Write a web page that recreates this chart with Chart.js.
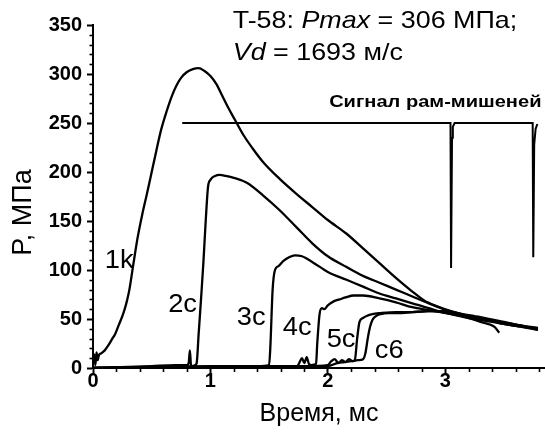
<!DOCTYPE html>
<html>
<head>
<meta charset="utf-8">
<script src="https://cdn.jsdelivr.net/npm/chart.js@4.4.1/dist/chart.umd.min.js"></script>
<style>
html,body{margin:0;padding:0;background:#fff;}
#wrap{width:545px;height:441px;position:relative;}
</style>
</head>
<body>
<div id="wrap"><canvas id="c" width="545" height="441"></canvas></div>
<script>
// ---- data (time in ms, pressure in MPa) ----
const t1k = [0, 0.01, 0.02, 0.03, 0.04, 0.05, 0.07, 0.1, 0.13, 0.16, 0.19, 0.22, 0.25, 0.27, 0.29, 0.31, 0.34, 0.38, 0.42, 0.46, 0.5, 0.54, 0.58, 0.63, 0.67, 0.71, 0.75, 0.8, 0.85, 0.9, 0.95, 1.0, 1.05, 1.1, 1.15, 1.21, 1.28, 1.36, 1.45, 1.59, 1.73, 1.87, 2.0, 2.16, 2.3, 2.44, 2.58, 2.72, 2.82, 2.93, 3.05, 3.2, 3.35, 3.5, 3.65, 3.79];
const p1k = [4, 14, 3, 16, 8, 13, 15, 18, 23, 29, 35, 44, 53, 60, 69, 80, 103, 133, 157, 178, 200, 222, 243, 263, 277, 288, 296, 302, 305, 306, 303, 298, 290, 278, 266, 253, 238, 224, 210, 193, 178, 164, 151, 137, 122, 107, 92, 78, 69, 63, 58, 53, 49, 45, 42, 39];

const t2c = [0, 0.3, 0.5, 0.7, 0.8, 0.815, 0.825, 0.835, 0.85, 0.87, 0.883, 0.9, 0.92, 0.94, 0.96, 0.98, 1.0, 1.04, 1.08, 1.13, 1.2, 1.31, 1.45, 1.59, 1.73, 1.87, 2.0, 2.16, 2.3, 2.44, 2.58, 2.72, 2.86, 3.01, 3.15, 3.3, 3.42, 3.46];
const p2c = [0, 1, 2, 3, 3, 5, 18, 3, 2, 3, 5, 35, 70, 107, 150, 185, 192, 196, 197, 196, 194, 189, 176, 161, 144, 127, 114, 103, 94, 87, 80, 73, 66, 59, 53, 47, 42, 36];

const t3c = [0, 0.5, 1.0, 1.4, 1.5, 1.51, 1.53, 1.55, 1.58, 1.62, 1.67, 1.72, 1.78, 1.87, 2.0, 2.16, 2.3, 2.44, 2.58, 2.72, 2.86, 3.01, 3.2, 3.4, 3.57, 3.7, 3.79];
const p3c = [0, 1, 2, 2, 3, 20, 80, 100, 104, 109, 113, 115, 114, 108, 98, 90, 83, 76, 71, 66, 61, 56, 52, 48, 45, 42, 40];

const t4c = [0, 0.5, 1.0, 1.5, 1.74, 1.76, 1.78, 1.8, 1.82, 1.84, 1.86, 1.9, 1.91, 1.93, 1.95, 1.97, 2.0, 2.05, 2.1, 2.15, 2.22, 2.3, 2.44, 2.58, 2.72, 2.86, 3.01, 3.2, 3.4, 3.6, 3.79];
const p4c = [0, 1, 1, 2, 2, 6, 10, 5, 11, 4, 3, 4, 25, 55, 61, 60, 64, 68, 70, 72, 74, 74, 71, 67, 62, 59, 56, 51, 47, 43, 40];

const t5c = [0, 1.0, 1.8, 2.0, 2.03, 2.06, 2.09, 2.12, 2.15, 2.18, 2.21, 2.23, 2.25, 2.27, 2.3, 2.33, 2.38, 2.45, 2.58, 2.72, 2.86, 3.0, 3.2, 3.4, 3.6, 3.79];
const p5c = [0, 1, 2, 3, 7, 9, 5, 8, 6, 9, 7, 8, 30, 47, 51, 53, 55, 56, 57, 57, 58, 57, 52, 48, 44, 41];

const tc6 = [0, 1.0, 2.0, 2.08, 2.14, 2.2, 2.26, 2.3, 2.32, 2.34, 2.36, 2.38, 2.41, 2.45, 2.52, 2.6, 2.72, 2.86, 3.0, 3.15, 3.3, 3.5, 3.65, 3.79];
const pc6 = [0, 1, 2, 5, 6, 7, 8, 9, 15, 30, 42, 49, 53, 55, 56, 56, 57, 58, 58, 55, 52, 47, 43, 39];

// target-frame signal
const tSig = [0.76, 3.045, 3.05, 3.058, 3.065, 3.08, 3.745, 3.75, 3.758, 3.77, 3.785];
const pSig = [250, 250, 102, 235, 246, 250, 250, 113, 228, 244, 249];

// ---- texts ----
const seriesLabels = ['1k', '2c', '3c', '4c', '5c', 'c6'];
const xTitle = 'Время, мс';
const yTitle = 'P, МПа';
const signalText = 'Сигнал рам-мишеней';
const headLine1 = [['T-58: ', false], ['Pmax', true], [' = 306 МПа;', false]];
const headLine2 = [['Vd', true], [' = 1693 м/с', false]];

// ---- label anchors (data coordinates) ----
const labelAnchors = {
  '1k': [0.10, 102], '2c': [0.64, 57], '3c': [1.225, 44],
  '4c': [1.617, 34], '5c': [1.99, 21], 'c6': [2.40, 10]
};

const FAMILY = '"Liberation Sans", Arial, sans-serif';
const STRETCH = 1.12;
const pts = (t, p) => t.map((x, i) => ({x: x, y: p[i]}));
const isMajorX = v => Math.abs(v - Math.round(v)) < 1e-6;
const isMajorY = v => Math.abs(v / 50 - Math.round(v / 50)) < 1e-6;

const mk = (label, t, p, extra) => Object.assign({
  label: label, data: pts(t, p), borderColor: '#000', borderWidth: 2.3,
  pointRadius: 0, fill: false, cubicInterpolationMode: 'monotone'
}, extra || {});

function stretchedText(ctx, text, px, py, font, align, sx) {
  ctx.save();
  ctx.translate(px, py);
  ctx.scale(sx, 1);
  ctx.font = font;
  ctx.textAlign = align;
  ctx.textBaseline = 'alphabetic';
  ctx.fillText(text, 0, 0);
  const w = ctx.measureText(text).width * sx;
  ctx.restore();
  return w;
}

const extras = {
  id: 'extras',
  afterDraw(chart) {
    const {ctx, chartArea: ca, scales: {x, y}} = chart;
    ctx.save();
    ctx.strokeStyle = '#000';
    ctx.lineWidth = 1.6;
    // minor ticks
    x.ticks.forEach(tk => {
      if (isMajorX(tk.value)) return;
      const px = Math.round(x.getPixelForValue(tk.value)) + 0.5;
      ctx.beginPath(); ctx.moveTo(px, ca.bottom); ctx.lineTo(px, ca.bottom + 4); ctx.stroke();
    });
    y.ticks.forEach(tk => {
      if (isMajorY(tk.value)) return;
      const py = Math.round(y.getPixelForValue(tk.value)) + 0.5;
      ctx.beginPath(); ctx.moveTo(ca.left - 3.5, py); ctx.lineTo(ca.left, py); ctx.stroke();
    });
    ctx.fillStyle = '#000';
    // y title
    ctx.save();
    ctx.translate(ca.left - 69, (ca.top + ca.bottom) / 2 + 16);
    ctx.rotate(-Math.PI / 2);
    ctx.font = '27px ' + FAMILY;
    ctx.textAlign = 'center'; ctx.textBaseline = 'middle';
    ctx.fillText(yTitle, 0, 0);
    ctx.restore();
    // curve labels
    seriesLabels.forEach(l => {
      const a = labelAnchors[l];
      stretchedText(ctx, l, x.getPixelForValue(a[0]), y.getPixelForValue(a[1]),
                    '26px ' + FAMILY, 'left', 1.05);
    });
    // signal label
    stretchedText(ctx, signalText, x.getPixelForValue(3.82), y.getPixelForValue(266),
                  'bold 17px ' + FAMILY, 'right', STRETCH + 0.06);
    // heading lines
    const drawRich = (segs, tx, ty) => {
      let cx = x.getPixelForValue(tx);
      const cy = y.getPixelForValue(ty);
      segs.forEach(s => {
        cx += stretchedText(ctx, s[0], cx, cy, (s[1] ? 'italic ' : '') + '24px ' + FAMILY, 'left', STRETCH);
      });
    };
    drawRich(headLine1, 1.19, 347);
    drawRich(headLine2, 1.19, 314);
    ctx.restore();
  }
};

new Chart(document.getElementById('c'), {
  type: 'line',
  data: {
    datasets: [
      mk('1k', t1k, p1k),
      mk('2c', t2c, p2c),
      mk('3c', t3c, p3c),
      mk('4c', t4c, p4c),
      mk('5c', t5c, p5c),
      mk('c6', tc6, pc6),
      mk('signal', tSig, pSig, {cubicInterpolationMode: 'default', tension: 0, borderWidth: 2})
    ]
  },
  options: {
    responsive: false,
    animation: false,
    devicePixelRatio: 1,
    layout: {padding: {top: 25, right: 0, left: 0, bottom: 0}},
    plugins: {legend: {display: false}, tooltip: {enabled: false}},
    scales: {
      x: {
        type: 'linear', min: 0, max: 3.85,
        afterFit: s => { s.height = 73; },
        border: {display: true, color: '#000', width: 2},
        grid: {display: true, drawOnChartArea: false, drawTicks: true, tickLength: 6, tickWidth: 2,
               tickColor: c => (c.tick && isMajorX(c.tick.value)) ? '#000' : 'rgba(0,0,0,0)'},
        ticks: {stepSize: 0.2, includeBounds: false, autoSkip: false, maxRotation: 0, minRotation: 0,
                padding: -3, color: '#000',
                font: {family: FAMILY, size: 20, weight: 'bold', lineHeight: 1},
                callback: v => isMajorX(v) ? String(Math.round(v)) : ''},
        title: {display: true, text: xTitle, color: '#000',
                font: {family: FAMILY, size: 25, lineHeight: 1.2}, padding: {top: 0, bottom: 12}}
      },
      y: {
        min: 0, max: 350,
        afterFit: s => { s.width = 93; },
        border: {display: true, color: '#000', width: 2},
        grid: {display: true, drawOnChartArea: false, drawTicks: true, tickLength: 6, tickWidth: 2,
               tickColor: c => (c.tick && isMajorY(c.tick.value)) ? '#000' : 'rgba(0,0,0,0)'},
        ticks: {stepSize: 10, includeBounds: false, autoSkip: false, padding: 5, color: '#000',
                font: {family: FAMILY, size: 20, weight: 'bold', lineHeight: 1},
                callback: v => isMajorY(v) ? String(Math.round(v)) : ''}
      }
    }
  },
  plugins: [extras]
});
</script>
</body>
</html>
